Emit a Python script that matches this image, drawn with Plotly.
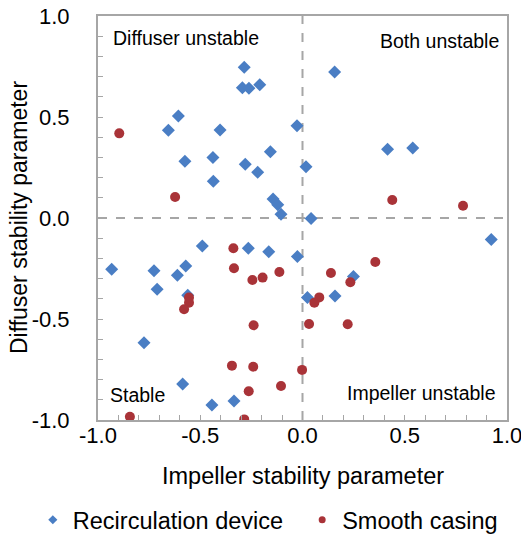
import plotly.graph_objects as go

# Recirculation device: (impeller, diffuser) stability parameters
recirc_impeller = [-0.285, -0.294, -0.262, -0.209, -0.607, -0.656, -0.403, -0.027, -0.157, -0.575,
                   -0.438, -0.280, -0.219, -0.436, -0.144, -0.121, -0.105, 0.017, 0.157, 0.416,
                   0.539, 0.042, -0.490, -0.265, -0.165, -0.025, -0.933, -0.726, -0.571, -0.612,
                   -0.711, -0.561, -0.775, -0.586, -0.443, -0.335, 0.024, 0.923, 0.249, 0.159]
recirc_diffuser = [0.746, 0.645, 0.642, 0.660, 0.505, 0.434, 0.436, 0.457, 0.328, 0.281,
                   0.300, 0.266, 0.226, 0.182, 0.094, 0.066, 0.018, 0.254, 0.723, 0.340,
                   0.347, -0.002, -0.139, -0.150, -0.167, -0.191, -0.254, -0.261, -0.238, -0.284,
                   -0.353, -0.383, -0.617, -0.822, -0.926, -0.906, -0.393, -0.107, -0.289, -0.386]

# Smooth casing
smooth_impeller = [-0.896, -0.623, 0.439, 0.785, -0.338, -0.335, -0.245, -0.195, -0.113, -0.555,
                   -0.555, -0.579, -0.239, -0.345, -0.241, -0.105, -0.263, -0.002, -0.844, -0.285,
                   0.032, 0.356, 0.139, 0.234, 0.082, 0.058, 0.221]
smooth_diffuser = [0.419, 0.104, 0.089, 0.061, -0.150, -0.249, -0.307, -0.295, -0.267, -0.394,
                   -0.419, -0.452, -0.531, -0.731, -0.736, -0.832, -0.858, -0.752, -0.984, -0.997,
                   -0.525, -0.218, -0.272, -0.318, -0.393, -0.419, -0.526]

series_names = ["Recirculation device", "Smooth casing"]
quadrant_labels = ["Diffuser unstable", "Both unstable", "Stable", "Impeller unstable"]
axis_titles = ["Impeller stability parameter", "Diffuser stability parameter"]
tick_values = [-1.0, -0.5, 0.0, 0.5, 1.0]
tick_labels = ["-1.0", "-0.5", "0.0", "0.5", "1.0"]

BLUE = "#4A7EC4"
RED = "#A93338"
GREY = "#A6A6A6"
FONT = "Liberation Sans, Arial, sans-serif"

fig = go.Figure()

fig.add_trace(go.Scatter(
    x=recirc_impeller, y=recirc_diffuser, mode="markers", name=series_names[0],
    marker=dict(symbol="diamond", size=10, color=BLUE, line=dict(width=0)),
    showlegend=False,
))
fig.add_trace(go.Scatter(
    x=smooth_impeller, y=smooth_diffuser, mode="markers", name=series_names[1],
    marker=dict(symbol="circle", size=10, color=RED, line=dict(width=0)),
    showlegend=False,
))

# Legend entries with smaller symbols, one legend box each so they sit side by side
fig.add_trace(go.Scatter(
    x=[None], y=[None], mode="markers", name=series_names[0], legend="legend",
    marker=dict(symbol="diamond", size=7, color=BLUE, line=dict(width=0)),
))
fig.add_trace(go.Scatter(
    x=[None], y=[None], mode="markers", name=series_names[1], legend="legend2",
    marker=dict(symbol="circle", size=7, color=RED, line=dict(width=0)),
))

# Dashed quadrant dividers
fig.add_shape(type="line", xref="x", yref="y", x0=0, x1=0, y0=-1, y1=1,
              line=dict(color=GREY, width=2, dash="dash"), layer="below")
fig.add_shape(type="line", xref="x", yref="y", x0=-1, x1=1, y0=0, y1=0,
              line=dict(color=GREY, width=2, dash="dash"), layer="below")

# Quadrant labels
label_font = dict(family=FONT, size=19.5, color="#000000")
fig.add_annotation(x=0.032, y=0.945, xref="paper", yref="paper", text=quadrant_labels[0],
                   showarrow=False, xanchor="left", yanchor="middle", font=label_font)
fig.add_annotation(x=0.986, y=0.938, xref="paper", yref="paper", text=quadrant_labels[1],
                   showarrow=False, xanchor="right", yanchor="middle", font=label_font)
fig.add_annotation(x=0.024, y=0.062, xref="paper", yref="paper", text=quadrant_labels[2],
                   showarrow=False, xanchor="left", yanchor="middle", font=label_font)
fig.add_annotation(x=0.978, y=0.067, xref="paper", yref="paper", text=quadrant_labels[3],
                   showarrow=False, xanchor="right", yanchor="middle", font=label_font)

# Axis titles
title_font = dict(family=FONT, size=23.5, color="#000000")
fig.add_annotation(x=0.5, y=-0.1386, xref="paper", yref="paper", text=axis_titles[0],
                   showarrow=False, xanchor="center", yanchor="middle", font=title_font)
fig.add_annotation(x=-0.193, y=0.5, xref="paper", yref="paper", text=axis_titles[1],
                   textangle=-90, showarrow=False, xanchor="center", yanchor="middle",
                   font=dict(family=FONT, size=23, color="#000000"))

axis_common = dict(
    range=[-1, 1], tickmode="array", tickvals=tick_values, ticktext=tick_labels,
    showgrid=False, zeroline=False, automargin=False, ticklabeloverflow="allow",
    showline=True, linecolor=GREY, linewidth=2, mirror=True,
    ticks="inside", ticklen=5, tickwidth=1, tickcolor=GREY,
    minor=dict(tickmode="linear", tick0=0, dtick=0.1, ticks="inside", ticklen=5,
               tickwidth=1, tickcolor=GREY),
    tickfont=dict(family=FONT, size=22, color="#000000"),
)

legend_common = dict(orientation="h", xref="container", yref="container",
                     xanchor="left", y=0.028, yanchor="middle",
                     font=dict(family=FONT, size=23.5), bgcolor="rgba(0,0,0,0)")

fig.update_layout(
    width=521, height=535,
    margin=dict(l=98, r=14, t=16, b=115, autoexpand=False),
    paper_bgcolor="white", plot_bgcolor="white",
    font=dict(family=FONT, size=23, color="#000000"),
    xaxis=dict(**axis_common, ticklabelstandoff=-5),
    yaxis=dict(**axis_common, ticklabelstandoff=22),
    legend=dict(**legend_common, x=0.063),
    legend2=dict(**legend_common, x=0.58),
)

fig.write_html("out.html")
